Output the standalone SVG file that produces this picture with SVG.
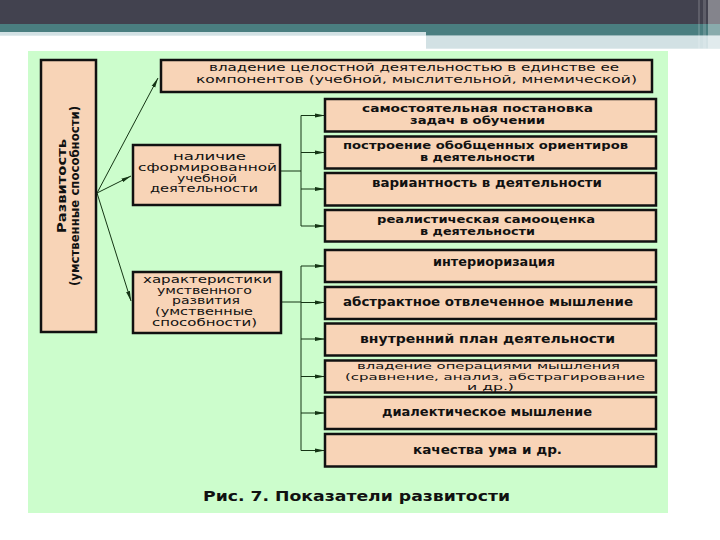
<svg xmlns="http://www.w3.org/2000/svg" width="720" height="540" viewBox="0 0 720 540">
<defs>
<style>
.box{fill:#f8d4b7;stroke:#111;stroke-width:2.5}
.t{font-family:"DejaVu Sans","Noto Sans",sans-serif;fill:#111}
.n{font-size:10px}
.s{font-size:9px}
.b{font-size:11px;font-weight:bold}
.b1{font-size:11.5px;font-weight:bold}
.tb{font-size:10.5px}
.lb{font-size:13px;font-weight:bold}
.ln{stroke:#153515;stroke-width:1;fill:none}
</style>
<marker id="ah" markerUnits="userSpaceOnUse" markerWidth="10" markerHeight="5" refX="10" refY="2.5" orient="auto">
<path d="M0,0.5 L10,2.5 L0,4.5 Z" fill="#153515"/>
</marker>
</defs>
<rect width="720" height="540" fill="#fff"/>
<g id="header">
<rect x="0" y="0" width="720" height="24" fill="#42424f"/>
<rect x="0" y="24" width="426" height="8" fill="#4a7e80"/>
<rect x="0" y="32" width="426" height="3.7" fill="#d2e1e4"/>
<rect x="426" y="24" width="294" height="11.7" fill="#4a7e80"/>
<rect x="426" y="35.7" width="294" height="13" fill="#d2e1e4"/>
<rect x="698" y="0" width="2" height="48.7" fill="#fff" opacity="0.15"/>
<rect x="703" y="0" width="3" height="48.7" fill="#fff" opacity="0.15"/>
<rect x="708" y="0" width="12" height="48.7" fill="#fff" opacity="0.35"/>
</g>
<rect id="panel" x="28" y="51" width="640" height="462" fill="#ccfdcc"/>
<g id="connectors">
<line class="ln" x1="97" y1="193" x2="158" y2="78" marker-end="url(#ah)"/>
<line class="ln" x1="97" y1="193" x2="131" y2="176" marker-end="url(#ah)"/>
<line class="ln" x1="97" y1="193" x2="131" y2="301" marker-end="url(#ah)"/>
<line class="ln" x1="280" y1="171" x2="301" y2="171"/>
<line class="ln" x1="301" y1="115.5" x2="301" y2="226"/>
<line class="ln" x1="301" y1="115.5" x2="325" y2="115.5" marker-end="url(#ah)"/>
<line class="ln" x1="301" y1="152.5" x2="325" y2="152.5" marker-end="url(#ah)"/>
<line class="ln" x1="301" y1="189" x2="325" y2="189" marker-end="url(#ah)"/>
<line class="ln" x1="301" y1="226" x2="325" y2="226" marker-end="url(#ah)"/>
<line class="ln" x1="281" y1="302" x2="301" y2="302"/>
<line class="ln" x1="301" y1="266" x2="301" y2="450.5"/>
<line class="ln" x1="301" y1="266" x2="325" y2="266" marker-end="url(#ah)"/>
<line class="ln" x1="301" y1="302.5" x2="325" y2="302.5" marker-end="url(#ah)"/>
<line class="ln" x1="301" y1="339" x2="325" y2="339" marker-end="url(#ah)"/>
<line class="ln" x1="301" y1="376.5" x2="325" y2="376.5" marker-end="url(#ah)"/>
<line class="ln" x1="301" y1="413" x2="325" y2="413" marker-end="url(#ah)"/>
<line class="ln" x1="301" y1="450.5" x2="325" y2="450.5" marker-end="url(#ah)"/>
</g>
<g id="root">
<rect class="box" x="41" y="60" width="55" height="272"/>
<text class="t lb" text-anchor="middle" transform="translate(66,186) rotate(-90)" textLength="94" lengthAdjust="spacingAndGlyphs">Развитость</text>
<text class="t lb" text-anchor="middle" transform="translate(79,196) rotate(-90)" textLength="180" lengthAdjust="spacingAndGlyphs">(умственные способности)</text>
</g>
<g id="n-top">
<rect class="box" x="161" y="60" width="491" height="32"/>
<text class="t tb" x="209" y="71" textLength="410" lengthAdjust="spacingAndGlyphs">владение целостной деятельностью в единстве ее</text>
<text class="t tb" x="196" y="83" textLength="441" lengthAdjust="spacingAndGlyphs">компонентов (учебной, мыслительной, мнемической)</text>
</g>
<g id="n-uchebn">
<rect class="box" x="133" y="145" width="147" height="60"/>
<text class="t n" x="173" y="160" textLength="73" lengthAdjust="spacingAndGlyphs">наличие</text>
<text class="t n" x="138" y="171" textLength="139" lengthAdjust="spacingAndGlyphs">сформированной</text>
<text class="t n" x="177" y="181.5" textLength="60" lengthAdjust="spacingAndGlyphs">учебной</text>
<text class="t n" x="150" y="192" textLength="108" lengthAdjust="spacingAndGlyphs">деятельности</text>
</g>
<g id="n-umstv">
<rect class="box" x="133" y="272" width="148" height="61"/>
<text class="t n" x="143" y="282.5" textLength="129" lengthAdjust="spacingAndGlyphs">характеристики</text>
<text class="t n" x="157" y="293.5" textLength="95" lengthAdjust="spacingAndGlyphs">умственного</text>
<text class="t n" x="172" y="304" textLength="68" lengthAdjust="spacingAndGlyphs">развития</text>
<text class="t n" x="155" y="315" textLength="98" lengthAdjust="spacingAndGlyphs">(умственные</text>
<text class="t n" x="152" y="325.5" textLength="105" lengthAdjust="spacingAndGlyphs">способности)</text>
</g>
<g id="r1">
<rect class="box" x="325" y="99" width="331" height="32.5"/>
<text class="t b" x="362" y="111.5" textLength="231" lengthAdjust="spacingAndGlyphs">самостоятельная постановка</text>
<text class="t b" x="410" y="123.5" textLength="135" lengthAdjust="spacingAndGlyphs">задач в обучении</text>
</g>
<g id="r2">
<rect class="box" x="325" y="136.5" width="331" height="32"/>
<text class="t b" x="343" y="148.5" textLength="285" lengthAdjust="spacingAndGlyphs">построение обобщенных ориентиров</text>
<text class="t b" x="420" y="160.5" textLength="115" lengthAdjust="spacingAndGlyphs">в деятельности</text>
</g>
<g id="r3">
<rect class="box" x="325" y="173" width="331" height="32.5"/>
<text class="t b1" x="372" y="187" textLength="230" lengthAdjust="spacingAndGlyphs">вариантность в деятельности</text>
</g>
<g id="r4">
<rect class="box" x="325" y="210" width="331" height="31.5"/>
<text class="t b" x="377" y="223" textLength="218" lengthAdjust="spacingAndGlyphs">реалистическая самооценка</text>
<text class="t b" x="420" y="235" textLength="115" lengthAdjust="spacingAndGlyphs">в деятельности</text>
</g>
<g id="r5">
<rect class="box" x="325" y="250" width="331" height="32"/>
<text class="t b1" x="433" y="265.5" textLength="122" lengthAdjust="spacingAndGlyphs">интериоризация</text>
</g>
<g id="r6">
<rect class="box" x="325" y="287" width="331" height="32"/>
<text class="t b1" x="343" y="306" textLength="290" lengthAdjust="spacingAndGlyphs">абстрактное отвлеченное мышление</text>
</g>
<g id="r7">
<rect class="box" x="325" y="323.5" width="331" height="32"/>
<text class="t b1" x="360" y="343" textLength="255" lengthAdjust="spacingAndGlyphs">внутренний план деятельности</text>
</g>
<g id="r8">
<rect class="box" x="325" y="360.5" width="331" height="32"/>
<text class="t s" x="357" y="369" textLength="263" lengthAdjust="spacingAndGlyphs">владение операциями мышления</text>
<text class="t s" x="345" y="379.5" textLength="300" lengthAdjust="spacingAndGlyphs">(сравнение, анализ, абстрагирование</text>
<text class="t s" x="467" y="390" textLength="47" lengthAdjust="spacingAndGlyphs">и др.)</text>
</g>
<g id="r9">
<rect class="box" x="325" y="397" width="331" height="32"/>
<text class="t b1" x="382" y="415.5" textLength="210" lengthAdjust="spacingAndGlyphs">диалектическое мышление</text>
</g>
<g id="r10">
<rect class="box" x="325" y="434" width="331" height="32.5"/>
<text class="t b1" x="413" y="453.5" textLength="149" lengthAdjust="spacingAndGlyphs">качества ума и др.</text>
</g>
<g id="caption">
<text class="t" x="203" y="501" font-size="13.5" font-weight="bold" textLength="307" lengthAdjust="spacingAndGlyphs">Рис. 7. Показатели развитости</text>
</g>
</svg>
